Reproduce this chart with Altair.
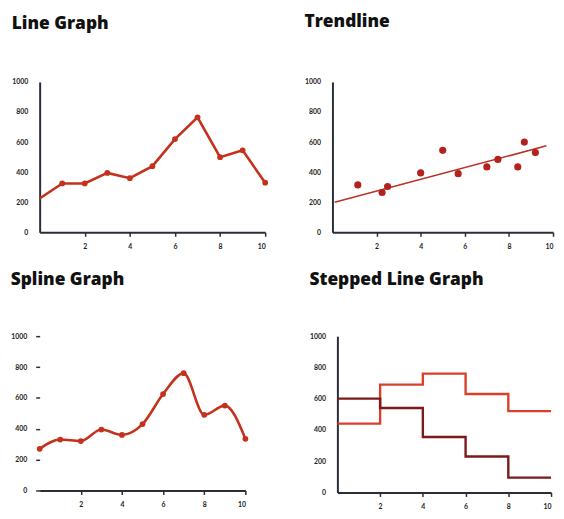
import altair as alt
import pandas as pd

# ---- data ----
line_x = [0, 1, 2, 3, 4, 5, 6, 7, 8, 9, 10]
line_y = [225, 325, 325, 395, 360, 440, 620, 765, 500, 545, 330]

scatter_x = [1.15, 2.25, 2.5, 4, 5, 5.7, 7, 7.5, 8.4, 8.7, 9.2]
scatter_y = [315, 265, 305, 395, 545, 390, 435, 485, 435, 600, 530]
trend_x = [0.1, 9.7]
trend_y = [200, 575]

spline_x = [0, 1, 2, 3, 4, 5, 6, 7, 8, 9, 10]
spline_y = [270, 330, 320, 395, 360, 430, 625, 760, 490, 550, 335]

step_x = [0, 2, 4, 6, 8, 10]
step_a = [440, 690, 760, 630, 520, 520]
step_b = [600, 540, 355, 230, 95, 95]

RED = "#c4321e"
DARK = "#7a1a1a"
BRIGHT = "#d8402c"
AXIS = "#2a2e38"

xticks = [2, 4, 6, 8, 10]
yticks = [0, 200, 400, 600, 800, 1000]

def xs():
    return alt.Scale(domain=[0, 10], nice=False, zero=True)

def ys():
    return alt.Scale(domain=[0, 1000], nice=False)

def xax(**kw):
    return alt.Axis(values=xticks, title=None, ticks=True, tickSize=4, labelPadding=6,
                    format="d", labelOverlap=False, **kw)

def yax(**kw):
    d = dict(values=yticks, title=None, ticks=False, labelPadding=12, format="d",
             labelOverlap=False)
    d.update(kw)
    return alt.Axis(**d)

def ttl(text, offset):
    return alt.TitleParams(text, anchor="start", frame="bounds", offset=offset,
                           font="Open Sans", fontSize=17.5, fontWeight=800, color="#111")

# Line graph
df1 = pd.DataFrame({"x": line_x, "y": line_y})
b1 = alt.Chart(df1).encode(x=alt.X("x:Q", scale=xs(), axis=xax()),
                           y=alt.Y("y:Q", scale=ys(), axis=yax()))
p1 = (b1.mark_line(color=RED, strokeWidth=2.6)
      + b1.transform_filter("datum.x > 0").mark_circle(color=RED, size=34, opacity=1)
      ).properties(width=228, height=152, title=ttl("Line Graph", 46))

# Trendline
df2 = pd.DataFrame({"x": scatter_x, "y": scatter_y})
dft = pd.DataFrame({"x": trend_x, "y": trend_y})
p2 = (alt.Chart(dft).mark_line(color="#b83226", strokeWidth=1.6).encode(
          x=alt.X("x:Q", scale=xs(), axis=xax()),
          y=alt.Y("y:Q", scale=ys(), axis=yax()))
      + alt.Chart(df2).mark_circle(color="#b3221c", size=52, opacity=1).encode(
          x=alt.X("x:Q", scale=xs(), axis=xax()),
          y=alt.Y("y:Q", scale=ys(), axis=yax()))
      ).properties(width=223, height=152, title=ttl("Trendline", 48))

# Spline
df3 = pd.DataFrame({"x": spline_x, "y": spline_y})
b3 = alt.Chart(df3).encode(
    x=alt.X("x:Q", scale=xs(), axis=xax()),
    y=alt.Y("y:Q", scale=ys(), axis=yax(domain=False, ticks=True, tickSize=4, labelPadding=9)))
p3 = (b3.mark_line(color=RED, strokeWidth=2.6, interpolate="monotone")
      + b3.mark_circle(color=RED, size=34, opacity=1)
      ).properties(width=208, height=156, title=ttl("Spline Graph", 44))

# Stepped
df4 = pd.DataFrame({"x": step_x * 2, "y": step_a + step_b,
                    "s": ["A"] * len(step_x) + ["B"] * len(step_x)})
p4 = alt.Chart(df4).mark_line(interpolate="step-after", strokeWidth=2.4).encode(
    x=alt.X("x:Q", scale=xs(), axis=xax()),
    y=alt.Y("y:Q", scale=ys(), axis=yax()),
    color=alt.Color("s:N", scale=alt.Scale(domain=["A", "B"], range=[BRIGHT, DARK]), legend=None),
).properties(width=216, height=158, title=ttl("Stepped Line Graph", 44))

row1 = alt.hconcat(p1, p2, spacing=33)
row2 = alt.hconcat(p3, p4, spacing=58)
chart = alt.vconcat(row1, row2, spacing=22).properties(padding={"left": 2, "top": 2, "right": 0, "bottom": 0}).configure_view(
    stroke=None
).configure_axis(
    grid=False, domainColor=AXIS, domainWidth=2, tickColor=AXIS, tickWidth=1.5,
    labelFont="Lato", labelFontWeight="bold", labelFontSize=7, labelColor="#222"
).configure_concat(spacing=10)

chart.save("out.html", embed_options={"renderer": "svg", "actions": False})
